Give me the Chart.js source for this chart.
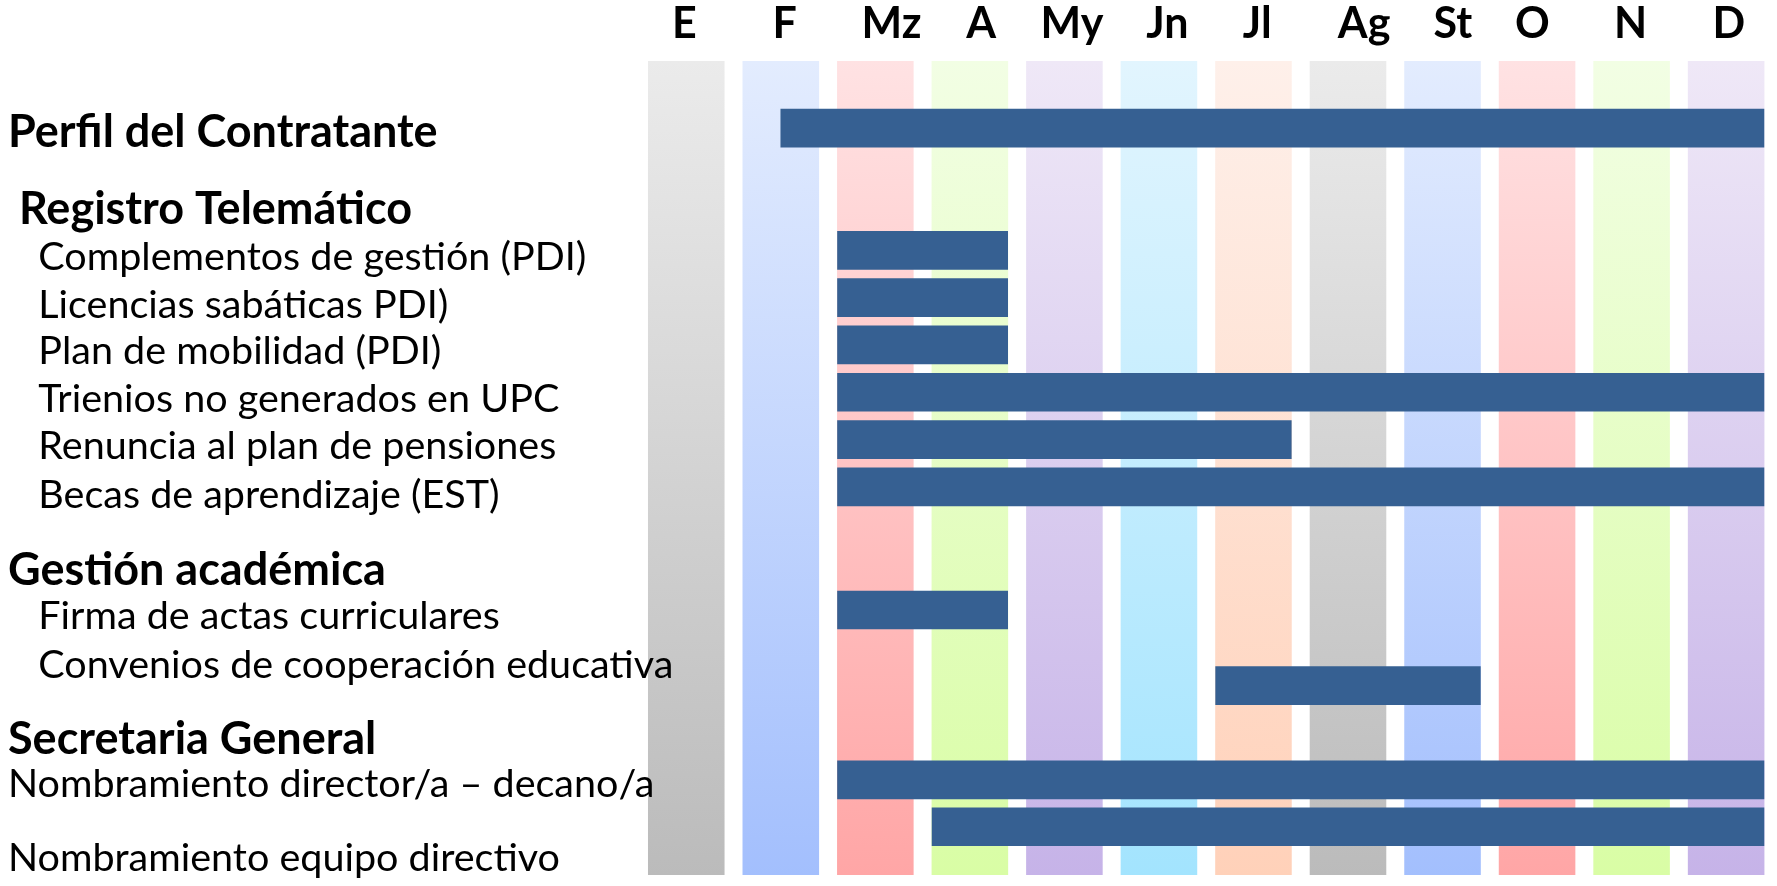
<!DOCTYPE html>
<html><head><meta charset="utf-8">
<script src="https://cdn.jsdelivr.net/npm/chart.js@4/dist/chart.umd.min.js"></script>
<style>html,body{margin:0;padding:0;background:#fff;overflow:hidden}#wrap{width:1777px;height:886px;position:relative}canvas{display:block}</style>
</head><body><div id="wrap"><canvas id="c" width="1777" height="886" style="width:1777px;height:886px"></canvas></div>
<script>
// Months (top axis): names, label positions (month units) and column colours
const months = ['E','F','Mz','A','My','Jn','Jl','Ag','St','O','N','D'];
const monthLabelPos = [0.48, 1.54, 2.67, 3.62, 4.58, 5.59, 6.54, 7.67, 8.61, 9.45, 10.49, 11.53];
const monthTop = ['#EBEBEB','#E3ECFE','#FFE2E3','#F2FEE4','#EFE8F7','#E2F5FE','#FEF0EA','#EBEBEB','#E3ECFE','#FFE2E3','#F2FEE4','#EFE8F7'];
const monthBottom = ['#BBBBBB','#A3BFFD','#FFA6A6','#D9FDA5','#C6B3E8','#A3E4FE','#FFD1B9','#BBBBBB','#A3BFFD','#FFA6A6','#D9FDA5','#C6B3E8'];

// Row labels (left axis) and their row positions
const labelTexts = [
  'Perfil del Contratante',
  ' Registro Telemático',
  '   Complementos de gestión (PDI)',
  '   Licencias sabáticas PDI)',
  '   Plan de mobilidad (PDI)',
  '   Trienios no generados en UPC',
  '   Renuncia al plan de pensiones',
  '   Becas de aprendizaje (EST)',
  'Gestión académica',
  '   Firma de actas curriculares',
  '   Convenios de cooperación educativa',
  'Secretaria General',
  'Nombramiento director/a – decano/a',
  'Nombramiento equipo directivo'
];
const labelRows = [1.51, 3.14, 4.14, 5.16, 6.13, 7.14, 8.14, 9.17, 10.76, 11.74, 12.76, 14.34, 15.28, 16.84];
const labelBold = [true, true, false, false, false, false, false, false, true, false, false, true, false, false];

// Tasks: row position, start month, end month (month units, 0 = start of E)
const taskNames = ['Perfil del Contratante','Complementos de gestión (PDI)','Licencias sabáticas PDI)','Plan de mobilidad (PDI)','Trienios no generados en UPC','Renuncia al plan de pensiones','Becas de aprendizaje (EST)','Firma de actas curriculares','Convenios de cooperación educativa','Nombramiento director/a – decano/a','Nombramiento equipo directivo'];
const taskRows  = [1.42, 4.0, 5.0, 6.0, 7.0, 8.0, 9.0, 11.6, 13.2, 15.19, 16.18];
const taskStart = [1.5, 2.1, 2.1, 2.1, 2.1, 2.1, 2.1, 2.1, 6.1, 2.1, 3.1];
const taskEnd   = [11.9, 3.9, 3.9, 3.9, 11.9, 6.9, 11.9, 3.9, 8.9, 11.9, 11.9];

const FONT = 'Lato';

const monthGradient = (ctx) => {
  const i = ctx.dataIndex;
  const chart = ctx.chart;
  const area = chart.chartArea;
  if (!area || i === undefined) return monthTop[i || 0];
  const g = chart.ctx.createLinearGradient(0, area.top, 0, area.bottom);
  g.addColorStop(0, monthTop[i]);
  g.addColorStop(1, monthBottom[i]);
  return g;
};

new Chart(document.getElementById('c'), {
  type: 'bar',
  data: {
    labels: months,
    datasets: [
      {
        label: 'Tareas',
        indexAxis: 'y',
        xAxisID: 'xt',
        yAxisID: 'yc',
        data: taskNames.map((n, i) => ({ x: [taskStart[i], taskEnd[i]], y: taskRows[i] })),
        backgroundColor: '#366092',
        borderWidth: 0,
        grouped: false,
        barPercentage: 1,
        categoryPercentage: 1,
        maxBarThickness: 38,
        order: 1
      },
      {
        label: 'Meses',
        indexAxis: 'x',
        xAxisID: 'xm',
        yAxisID: 'yv',
        data: months.map(() => 1),
        backgroundColor: monthGradient,
        borderWidth: 0,
        barPercentage: 0.81,
        categoryPercentage: 1.0,
        grouped: false,
        order: 2
      }
    ]
  },
  options: {
    responsive: false,
    animation: false,
    devicePixelRatio: 1,
    layout: { padding: { left: 8, right: 3.6, top: 0, bottom: 11 } },
    plugins: { legend: { display: false }, tooltip: { enabled: false } },
    scales: {
      xm: { type: 'category', labels: months, offset: true, display: false },
      xl: {
        type: 'linear', position: 'top', min: 0, max: 12, offset: false,
        grid: { display: false, offset: false }, border: { display: false },
        afterBuildTicks(s) { s.ticks = monthLabelPos.map(v => ({ value: v })); },
        ticks: { color: '#000', font: { family: FONT, weight: 'bold', size: 43 }, padding: 3, maxRotation: 0, autoSkip: false,
                 callback: (v, i) => months[i] },
        afterFit(s) { s.height = 61; s.paddingLeft = 0; s.paddingRight = 0; }
      },
      yv: { type: 'linear', min: 0, max: 1, display: false, offset: false },
      xt: { type: 'linear', min: 0, max: 12, display: false, offset: false, grid: { offset: false } },
      yc: {
        type: 'linear', position: 'left', reverse: true, min: 0, max: 17.2, offset: false,
        grid: { display: false, offset: false }, border: { display: false },
        afterBuildTicks(s) { s.ticks = labelRows.map(v => ({ value: v })); },
        ticks: {
          z: 1, autoSkip: false, crossAlign: 'far', color: '#000',
          callback: (v, i) => labelTexts[i],
          font: (c) => labelBold[c.index] ? { family: FONT, weight: 'bold', size: 45 } : { family: FONT, weight: 'normal', size: 39.5 }
        },
        afterFit(s) {
          s.width = 631; s.paddingTop = 0; s.paddingBottom = 0;
          s._computeLabelArea = () => undefined; // let long labels run over the first column, as in the original
        }
      }
    }
  }
});
</script>
</body></html>
